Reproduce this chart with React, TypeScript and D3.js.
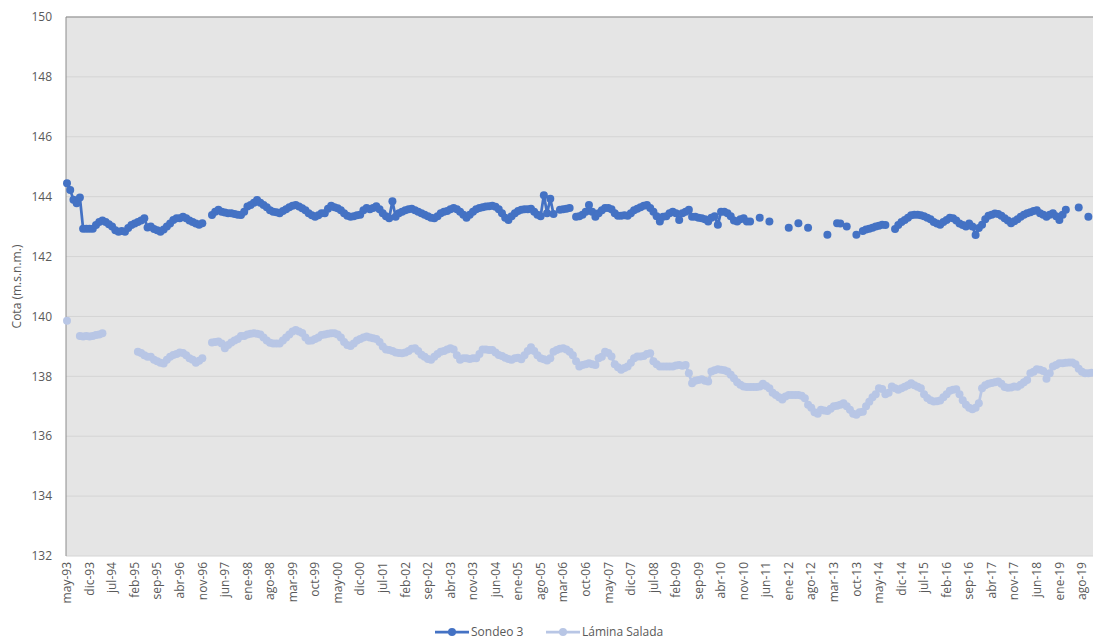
import * as d3 from "d3";

// Monthly series, one row per calendar year (1993 starts in May, 2019 ends in Nov)
const sondeo3Rows: (number | null)[][] = [
  [144.45, 144.22, 143.9, 143.78, 143.97, 142.93, 142.93, 142.93],
  [142.93, 143.05, 143.15, 143.2, 143.15, 143.08, 143.0, 142.88, 142.83, 142.85, 142.83, 142.95],
  [143.05, 143.1, 143.15, 143.2, 143.28, 142.97, 143.0, 142.92, 142.88, 142.83, 142.9, 143.0],
  [143.1, 143.22, 143.28, 143.28, 143.33, 143.28, 143.2, 143.15, 143.1, 143.06, 143.11, null],
  [null, 143.39, 143.5, 143.56, 143.5, 143.47, 143.45, 143.45, 143.42, 143.4, 143.39, 143.5],
  [143.67, 143.72, 143.8, 143.89, 143.8, 143.72, 143.65, 143.55, 143.5, 143.48, 143.45, 143.52],
  [143.58, 143.65, 143.7, 143.72, 143.67, 143.61, 143.55, 143.45, 143.38, 143.33, 143.38, 143.45],
  [143.45, 143.6, 143.7, 143.65, 143.61, 143.55, 143.45, 143.36, 143.33, 143.35, 143.38, 143.4],
  [143.55, 143.62, 143.58, 143.62, 143.68, 143.58, 143.45, 143.35, 143.28, 143.85, 143.33, 143.45],
  [143.5, 143.55, 143.58, 143.6, 143.55, 143.5, 143.45, 143.4, 143.35, 143.3, 143.28, 143.35],
  [143.45, 143.5, 143.52, 143.58, 143.62, 143.58, 143.5, 143.4, 143.3, 143.4, 143.5, 143.58],
  [143.62, 143.65, 143.67, 143.68, 143.7, 143.66, 143.58, 143.45, 143.3, 143.22, 143.35, 143.45],
  [143.52, 143.56, 143.58, 143.58, 143.6, 143.5, 143.4, 143.35, 144.05, 143.45, 143.93, 143.42],
  [null, 143.56, 143.58, 143.6, 143.62, null, 143.33, 143.35, 143.4, 143.5, 143.72, 143.5],
  [143.33, 143.45, 143.55, 143.62, 143.62, 143.58, 143.45, 143.36, 143.36, 143.38, 143.36, 143.45],
  [143.55, 143.6, 143.65, 143.7, 143.72, 143.62, 143.5, 143.35, 143.17, 143.33, 143.35, 143.45],
  [143.5, 143.45, 143.22, 143.45, 143.5, 143.56, 143.33, 143.33, 143.3, 143.28, 143.25, 143.17],
  [143.3, 143.35, 143.06, 143.5, 143.5, 143.45, 143.35, 143.2, 143.17, 143.25, 143.28, 143.17],
  [143.17, null, null, 143.3, null, null, 143.17, null, null, null, null, null],
  [142.96, null, null, 143.11, null, null, 142.96, null, null, null, null, null],
  [142.73, null, null, 143.11, 143.1, null, 143.0, null, null, 142.73, null, 142.85],
  [142.9, 142.93, 142.96, 143.0, 143.03, 143.06, 143.05, null, null, 142.92, 143.05, 143.15],
  [143.22, 143.3, 143.38, 143.4, 143.4, 143.38, 143.35, 143.3, 143.25, 143.15, 143.1, 143.06],
  [143.15, 143.22, 143.3, 143.28, 143.2, 143.1, 143.05, 143.0, 143.1, 143.0, 142.72, 142.95],
  [143.06, 143.25, 143.36, 143.4, 143.44, 143.42, 143.36, 143.28, 143.2, 143.11, 143.18, 143.25],
  [143.33, 143.4, 143.45, 143.48, 143.52, 143.55, 143.45, 143.4, 143.33, 143.4, 143.45, 143.35],
  [143.22, 143.4, 143.56, null, null, null, 143.64, null, null, 143.33, null],
];

const laminaRows: (number | null)[][] = [
  [139.86, null, null, null, 139.35, 139.33, 139.35, 139.33],
  [139.35, 139.38, 139.4, 139.44, null, null, null, null, null, null, null, null],
  [null, null, 138.82, 138.78, 138.7, 138.65, 138.65, 138.55, 138.5, 138.45, 138.43, 138.55],
  [138.65, 138.71, 138.75, 138.8, 138.78, 138.7, 138.6, 138.55, 138.45, 138.52, 138.6, null],
  [null, 139.13, 139.15, 139.16, 139.1, 138.94, 139.05, 139.13, 139.2, 139.25, 139.35, 139.35],
  [139.4, 139.42, 139.44, 139.42, 139.4, 139.3, 139.2, 139.12, 139.1, 139.1, 139.1, 139.2],
  [139.3, 139.4, 139.5, 139.55, 139.5, 139.45, 139.3, 139.19, 139.2, 139.25, 139.3, 139.38],
  [139.4, 139.42, 139.44, 139.44, 139.4, 139.3, 139.15, 139.05, 139.01, 139.1, 139.2, 139.25],
  [139.3, 139.33, 139.3, 139.27, 139.25, 139.15, 139.0, 138.9, 138.88, 138.85, 138.8, 138.78],
  [138.77, 138.8, 138.85, 138.92, 138.94, 138.85, 138.72, 138.65, 138.58, 138.55, 138.65, 138.75],
  [138.82, 138.85, 138.9, 138.94, 138.9, 138.7, 138.55, 138.6, 138.6, 138.58, 138.6, 138.6],
  [138.75, 138.9, 138.9, 138.88, 138.88, 138.8, 138.71, 138.68, 138.62, 138.58, 138.55, 138.6],
  [138.62, 138.57, 138.7, 138.85, 138.97, 138.85, 138.7, 138.6, 138.57, 138.53, 138.6, 138.82],
  [138.88, 138.92, 138.94, 138.9, 138.82, 138.7, 138.5, 138.33, 138.38, 138.4, 138.44, 138.4],
  [138.38, 138.6, 138.65, 138.82, 138.78, 138.66, 138.4, 138.3, 138.22, 138.28, 138.33, 138.45],
  [138.6, 138.66, 138.66, 138.68, 138.75, 138.77, 138.5, 138.4, 138.33, 138.33, 138.33, 138.33],
  [138.33, 138.36, 138.38, 138.35, 138.38, 138.1, 137.77, 137.85, 137.88, 137.9, 137.85, 137.83],
  [138.16, 138.2, 138.24, 138.22, 138.2, 138.16, 138.05, 137.94, 137.8, 137.72, 137.66, 137.64],
  [137.64, 137.64, 137.64, 137.66, 137.75, 137.68, 137.6, 137.45, 137.38, 137.3, 137.23, 137.33],
  [137.38, 137.38, 137.38, 137.38, 137.35, 137.27, 137.05, 136.95, 136.8, 136.75, 136.88, 136.86],
  [136.84, 136.92, 137.0, 137.02, 137.05, 137.1, 137.0, 136.88, 136.75, 136.72, 136.8, 136.82],
  [137.0, 137.15, 137.3, 137.4, 137.6, 137.58, 137.4, 137.45, 137.66, 137.6, 137.55, 137.6],
  [137.65, 137.7, 137.77, 137.7, 137.65, 137.6, 137.4, 137.28, 137.2, 137.16, 137.17, 137.19],
  [137.3, 137.4, 137.52, 137.55, 137.57, 137.4, 137.2, 137.05, 136.95, 136.9, 136.95, 137.1],
  [137.6, 137.7, 137.75, 137.78, 137.8, 137.83, 137.75, 137.64, 137.62, 137.63, 137.66, 137.65],
  [137.72, 137.8, 137.88, 138.1, 138.15, 138.24, 138.22, 138.18, 137.92, 138.1, 138.33, 138.38],
  [138.44, 138.44, 138.45, 138.46, 138.46, 138.4, 138.25, 138.15, 138.1, 138.1, 138.12],
];

// Axis labels, one every 7 months starting at may-93
const tickLabels = [
  "may-93", "dic-93", "jul-94", "feb-95", "sep-95", "abr-96", "nov-96", "jun-97",
  "ene-98", "ago-98", "mar-99", "oct-99", "may-00", "dic-00", "jul-01", "feb-02",
  "sep-02", "abr-03", "nov-03", "jun-04", "ene-05", "ago-05", "mar-06", "oct-06",
  "may-07", "dic-07", "jul-08", "feb-09", "sep-09", "abr-10", "nov-10", "jun-11",
  "ene-12", "ago-12", "mar-13", "oct-13", "may-14", "dic-14", "jul-15", "feb-16",
  "sep-16", "abr-17", "nov-17", "jun-18", "ene-19", "ago-19",
];
const tickStep = 7;
const yTicks = [132, 134, 136, 138, 140, 142, 144, 146, 148, 150];

const series = [
  { name: "Sondeo 3", color: "#4472c4", values: sondeo3Rows.flat(), legendX: 435 },
  { name: "Lámina Salada", color: "#b8c6e5", values: laminaRows.flat(), legendX: 546 },
];

const FONT = "'Open Sans', 'Liberation Sans', sans-serif";
const TEXT = "#595959";

export default function App() {
  const width = 1093;
  const height = 641;
  const left = 66;
  const top = 17;
  const bottom = 556;
  const n = series[0].values.length;

  const x = d3.scaleLinear().domain([0, n - 1]).range([67, 1091.6]);
  const y = d3.scaleLinear().domain([132, 150]).range([bottom, top]);

  const line = d3
    .line<number | null>()
    .defined((d) => d != null)
    .x((_, i) => x(i))
    .y((d) => y(d as number));

  return (
    <svg
      width={width}
      height={height}
      style={{ position: "absolute", left: 0, top: 0, background: "#fff" }}
    >
      <rect x={left} y={top} width={width - left + 10} height={bottom - top} fill="#e5e5e5" />
      {yTicks.map((t) => (
        <line key={t} x1={left} x2={width} y1={y(t)} y2={y(t)} stroke="#d4d4d4" strokeWidth={1} />
      ))}
      <line x1={left} x2={width} y1={top} y2={top} stroke="#8c8c8c" />
      <line x1={left} x2={left} y1={top} y2={bottom} stroke="#8c8c8c" />

      {yTicks.map((t) => (
        <text key={t} x={52} y={y(t)} dy="0.35em" textAnchor="end" fontFamily={FONT} fontSize={12} fill={TEXT}>
          {t}
        </text>
      ))}
      <text
        transform={`translate(17,${(top + bottom) / 2}) rotate(-90)`}
        textAnchor="middle"
        dy="0.35em"
        fontFamily={FONT}
        fontSize={12}
        fill={TEXT}
      >
        Cota (m.s.n.m.)
      </text>

      {tickLabels.map((lab, k) => (
        <text
          key={lab}
          transform={`translate(${x(k * tickStep)},562) rotate(-90)`}
          textAnchor="end"
          dy="0.35em"
          fontFamily={FONT}
          fontSize={12}
          fill={TEXT}
        >
          {lab}
        </text>
      ))}

      <g>
        {series.map((s) => (
          <g key={s.name}>
            <path d={line(s.values) ?? ""} fill="none" stroke={s.color} strokeWidth={2.75} strokeLinejoin="round" />
            {s.values.map((v, i) =>
              v == null ? null : <circle key={i} cx={x(i)} cy={y(v)} r={4} fill={s.color} />
            )}
          </g>
        ))}
      </g>

      {/* legend */}
      {series.map((s) => (
        <g key={s.name}>
          <line x1={s.legendX} x2={s.legendX + 34} y1={632} y2={632} stroke={s.color} strokeWidth={2.75} />
          <circle cx={s.legendX + 17} cy={632} r={4} fill={s.color} />
          <text x={s.legendX + 36} y={632} dy="0.35em" fontFamily={FONT} fontSize={12} fill={TEXT}>
            {s.name}
          </text>
        </g>
      ))}
    </svg>
  );
}
